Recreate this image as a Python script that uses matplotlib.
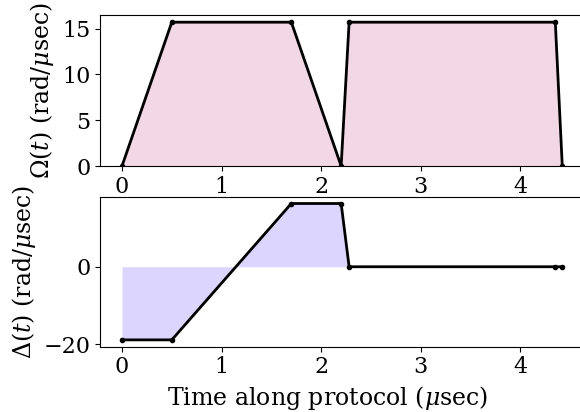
import matplotlib
matplotlib.use("Agg")
import matplotlib.pyplot as plt

plt.rcParams['font.family'] = ['DejaVu Serif']
plt.rcParams['mathtext.fontset'] = 'dejavuserif'
plt.rcParams['font.size'] = 16
plt.rcParams['axes.labelsize'] = 17

# protocol time points (usec)
times = [0.0, 0.5, 1.7, 2.2, 2.28, 4.35, 4.42]
# Rabi amplitude (rad/usec)
omega = [0.0, 15.7, 15.7, 0.0, 15.7, 15.7, 0.0]
# detuning (rad/usec)
delta = [-18.85, -18.85, 16.3, 16.3, 0.0, 0.0, 0.0]

fig = plt.figure(figsize=(5.8, 4.12), dpi=100)
ax1 = fig.add_axes([0.1724, 0.597, 0.835, 0.3666])
ax2 = fig.add_axes([0.1724, 0.1585, 0.835, 0.3641])

ax1.fill_between(times, omega, 0, color='#f2d8e4', lw=0)
ax1.plot(times, omega, color='black', lw=2, marker='o', ms=3)
ax1.set_ylim(0, None)
ax1.set_ylabel(r'$\Omega(t)$ (rad/$\mu$sec)')
ax1.set_yticks([0, 5, 10, 15])

ax2.fill_between(times, delta, 0, color='#dcd5fd', lw=0)
ax2.plot(times, delta, color='black', lw=2, marker='o', ms=3)
ax2.set_ylabel(r'$\Delta(t)$ (rad/$\mu$sec)')
ax2.set_yticks([-20, 0])
ax2.set_xlabel(r'Time along protocol ($\mu$sec)', x=0.469)

for ax in (ax1, ax2):
    ax.set_xticks([0, 1, 2, 3, 4])

fig.savefig('out.png', dpi=100)
